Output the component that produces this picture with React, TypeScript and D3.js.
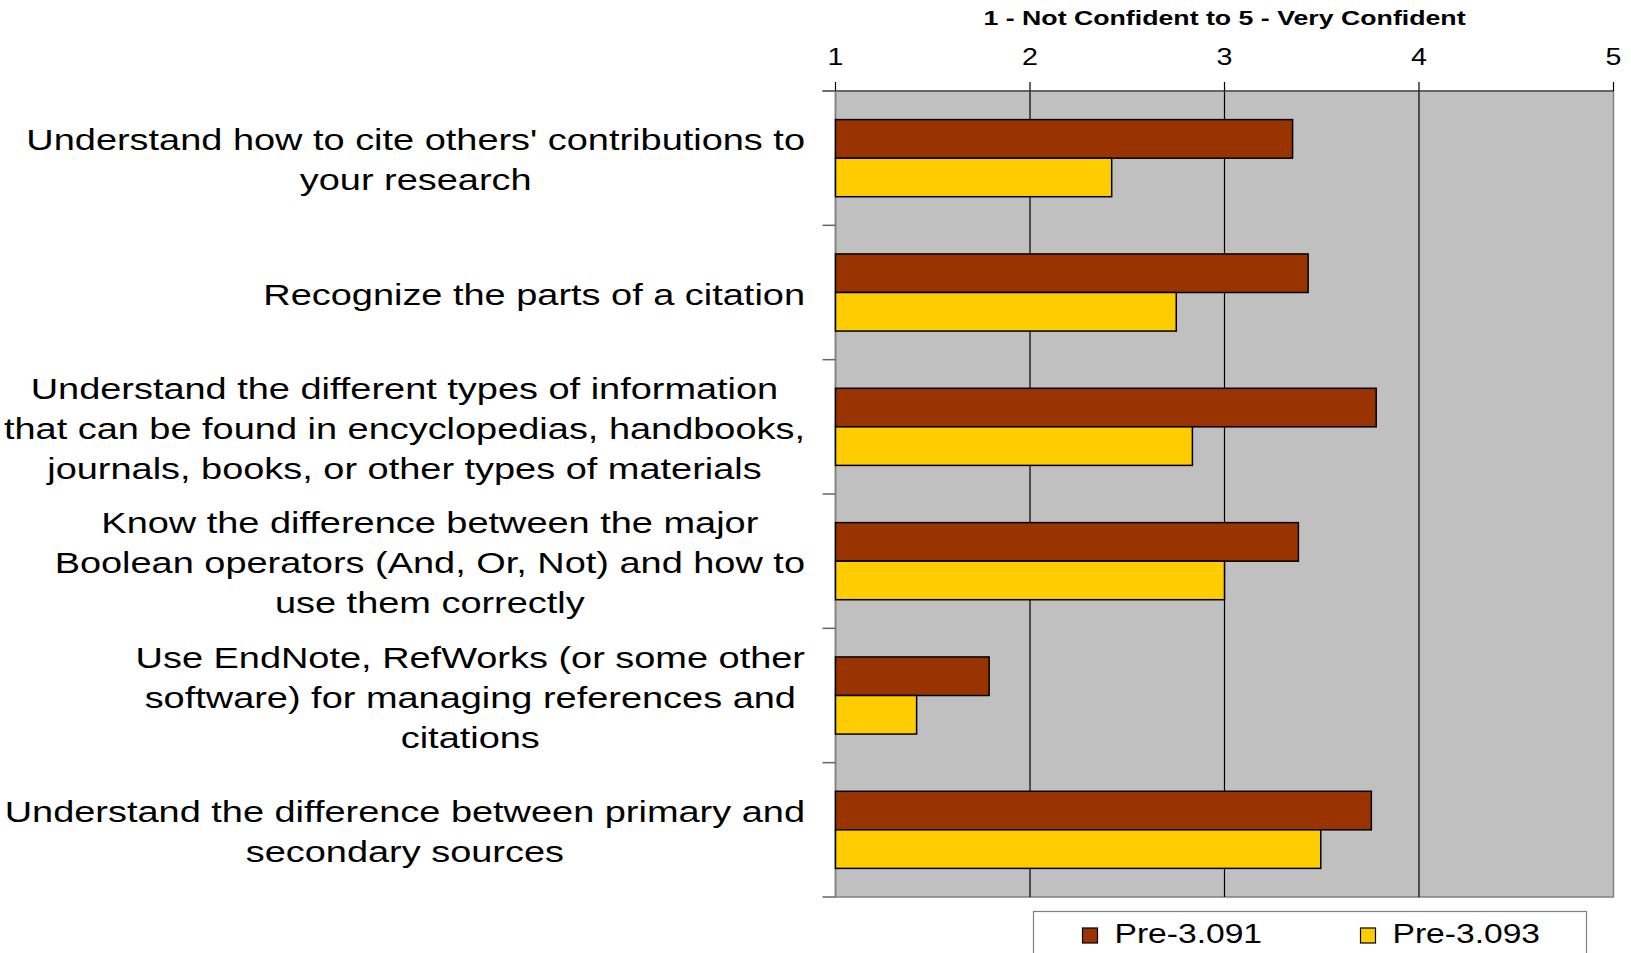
import React, { useMemo } from "react";
import * as d3 from "d3";

const categories: string[][] = [
  ["Understand how to cite others' contributions to", "your research"],
  ["Recognize the parts of a citation"],
  [
    "Understand the different types of information",
    "that can be found in encyclopedias, handbooks,",
    "journals, books, or other types of materials",
  ],
  [
    "Know the difference between the major",
    "Boolean operators (And, Or, Not) and how to",
    "use them correctly",
  ],
  [
    "Use EndNote, RefWorks (or some other",
    "software) for managing references and",
    "citations",
  ],
  ["Understand the difference between primary and", "secondary sources"],
];

const seriesNames = ["Pre-3.091", "Pre-3.093"];
const pre3091 = [3.35, 3.43, 3.78, 3.38, 1.79, 3.755];
const pre3093 = [2.42, 2.752, 2.835, 3.0, 1.417, 3.495];
const xTicks = [1, 2, 3, 4, 5];
const axisTitle = "1 - Not Confident to 5 - Very Confident";

const COLORS = ["#993300", "#FFCC00"];
const STRETCH = 1.245;
const LABEL_STRETCH = 1.264;
const TITLE_STRETCH = 1.272;
const FONT = "'Liberation Sans', Arial, sans-serif";

function measure(text: string, size: number, stretch: number, weight = "normal"): number {
  const c = document.createElement("canvas");
  const ctx = c.getContext("2d")!;
  ctx.font = `${weight} ${size}px 'Liberation Sans'`;
  return ctx.measureText(text).width * stretch;
}

function SText(props: {
  x: number;
  y: number;
  size: number;
  anchor?: string;
  weight?: string;
  stretch?: number;
  children: string;
}) {
  const { x, y, size, anchor = "start", weight = "normal", stretch = STRETCH, children } = props;
  return (
    <text
      transform={`translate(${x},${y}) scale(${stretch},1)`}
      fontFamily={FONT}
      fontSize={size}
      fontWeight={weight}
      textAnchor={anchor}
      fill="#000"
    >
      {children}
    </text>
  );
}

export default function App() {
  const W = 1631;
  const H = 953;
  const left = 835.5;
  const right = 1613.5;
  const top = 91;
  const bottom = 897;

  const x = d3.scaleLinear().domain([1, 5]).range([left, right]);
  const idx = categories.map((_, i) => i);
  const y = d3.scaleBand<number>().domain(idx).range([top, bottom]).padding(0);
  const bw = y.bandwidth();
  const ySeries = d3
    .scaleBand<number>()
    .domain([0, 1])
    .range([bw * 0.213, bw * 0.787])
    .padding(0);

  const values = [pre3091, pre3093];

  const labelSize = 30;
  const lineH = 40;
  const labelRight = 805;

  const labelLayout = useMemo(
    () =>
      categories.map((lines) => {
        const maxW = Math.max(...lines.map((l) => measure(l, labelSize, LABEL_STRETCH)));
        return labelRight - maxW / 2;
      }),
    []
  );

  return (
    <svg
      width={W}
      height={H}
      style={{ position: "absolute", left: 0, top: 0, background: "#fff" }}
    >
      {/* plot area */}
      <rect x={left} y={top} width={right - left} height={bottom - top} fill="#C0C0C0" stroke="#808080" strokeWidth={1.5} />
      {/* gridlines */}
      {xTicks.slice(1, -1).map((t) => (
        <line key={t} x1={x(t)} x2={x(t)} y1={top} y2={bottom} stroke="#000" strokeWidth={1.2} />
      ))}
      {/* top axis */}
      <line x1={left - 13} x2={right} y1={top} y2={top} stroke="#555" strokeWidth={1.5} />
      {xTicks.map((t) => (
        <line key={"tk" + t} x1={x(t)} x2={x(t)} y1={top - 9} y2={top} stroke="#000" strokeWidth={1.2} />
      ))}
      {xTicks.map((t) => (
        <SText key={"tl" + t} x={x(t)} y={65} size={23} anchor="middle">
          {String(t)}
        </SText>
      ))}
      <SText x={(left + right) / 2} y={25} size={21} anchor="middle" weight="bold" stretch={TITLE_STRETCH}>
        {axisTitle}
      </SText>
      {/* left axis */}
      <line x1={left} x2={left} y1={top} y2={bottom} stroke="#808080" strokeWidth={1.5} />
      {d3.range(categories.length + 1).map((i) => {
        const yy = top + i * bw;
        return <line key={"ct" + i} x1={left - 13} x2={left} y1={yy} y2={yy} stroke="#666" strokeWidth={1.5} />;
      })}
      {/* bars */}
      {values.map((vals, s) =>
        vals.map((v, i) => (
          <rect
            key={`b${s}-${i}`}
            x={x(1)}
            y={(y(i) as number) + (ySeries(s) as number)}
            width={x(v) - x(1)}
            height={ySeries.bandwidth()}
            fill={COLORS[s]}
            stroke="#000"
            strokeWidth={1.5}
          />
        ))
      )}
      {/* category labels */}
      {categories.map((lines, i) => {
        const cy = (y(i) as number) + bw / 2;
        const n = lines.length;
        return lines.map((l, j) => (
          <SText
            key={`l${i}-${j}`}
            x={labelLayout[i]}
            y={cy + (j - (n - 1) / 2) * lineH + 12}
            size={labelSize}
            anchor="middle"
            stretch={LABEL_STRETCH}
          >
            {l}
          </SText>
        ));
      })}
      {/* legend */}
      <rect x={1033.5} y={911.5} width={553} height={60} fill="#fff" stroke="#808080" strokeWidth={1.2} />
      {seriesNames.map((name, s) => {
        const lx = s === 0 ? 1082.5 : 1360.5;
        return (
          <g key={name}>
            <rect x={lx} y={928} width={15} height={15} fill={COLORS[s]} stroke="#000" strokeWidth={1.2} />
            <SText x={lx + 32} y={943} size={27}>
              {name}
            </SText>
          </g>
        );
      })}
    </svg>
  );
}
